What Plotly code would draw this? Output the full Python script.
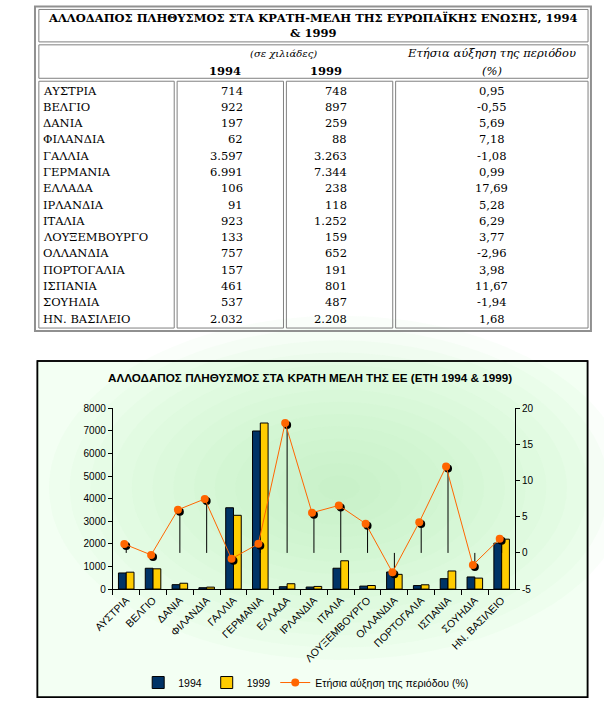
import plotly.graph_objects as go

# ---------------- data ----------------
countries = ["ΑΥΣΤΡΙΑ", "ΒΕΛΓΙΟ", "ΔΑΝΙΑ", "ΦΙΛΑΝΔΙΑ", "ΓΑΛΛΙΑ", "ΓΕΡΜΑΝΙΑ", "ΕΛΛΑΔΑ",
             "ΙΡΛΑΝΔΙΑ", "ΙΤΑΛΙΑ", "ΛΟΥΞΕΜΒΟΥΡΓΟ", "ΟΛΛΑΝΔΙΑ", "ΠΟΡΤΟΓΑΛΙΑ", "ΙΣΠΑΝΙΑ",
             "ΣΟΥΗΔΙΑ", "ΗΝ. ΒΑΣΙΛΕΙΟ"]
pop1994 = [714, 922, 197, 62, 3597, 6991, 106, 91, 923, 133, 757, 157, 461, 537, 2032]
pop1999 = [748, 897, 259, 88, 3263, 7344, 238, 118, 1252, 159, 652, 191, 801, 487, 2208]
growth = [0.95, -0.55, 5.69, 7.18, -1.08, 0.99, 17.69, 5.28, 6.29, 3.77, -2.96, 3.98,
          11.67, -1.94, 1.68]

table_title = "ΑΛΛΟΔΑΠΟΣ ΠΛΗΘΥΣΜΟΣ ΣΤΑ ΚΡΑΤΗ-ΜΕΛΗ ΤΗΣ ΕΥΡΩΠΑΪΚΗΣ ΕΝΩΣΗΣ, 1994<br>&amp; 1999"
unit_label = "(σε χιλιάδες)"
year_labels = ["1994", "1999"]
growth_label = "Ετήσια αύξηση της περιόδου"
growth_unit = "(%)"
chart_title = "ΑΛΛΟΔΑΠΟΣ ΠΛΗΘΥΣΜΟΣ ΣΤΑ ΚΡΑΤΗ ΜΕΛΗ ΤΗΣ ΕΕ (ΕΤΗ 1994 &amp; 1999)"
legend_names = ["1994", "1999", "Ετήσια αύξηση της περιόδου (%)"]
y2_tickvals = [-5, 0, 5, 10, 15, 20]
y2_ticktext = ["-5", "0", "5", "10", "15", "20"]

# ---------------- geometry helpers ----------------
W, H = 604, 719
def X(px): return px / W
def Y(py): return 1 - py / H

def fmt_int(v): return f"{v:,}".replace(",", ".")
def fmt_dec(v): return f"{v:.2f}".replace(".", ",")

SERIF = "DejaVu Serif"
SANS = "Liberation Sans"

fig = go.Figure()

# ---------------- chart traces ----------------
fig.add_trace(go.Bar(x=countries, y=pop1994, name=legend_names[0],
                     marker=dict(color="#003366", line=dict(color="black", width=1)),
                     xaxis="x", yaxis="y"))
fig.add_trace(go.Bar(x=countries, y=pop1999, name=legend_names[1],
                     marker=dict(color="#FFCC00", line=dict(color="black", width=1)),
                     xaxis="x", yaxis="y"))
# drop lines to zero + shadow markers
fig.add_trace(go.Scatter(x=countries, y=growth, mode="markers", showlegend=False,
                         marker=dict(color="black", size=8),
                         error_y=dict(type="data", symmetric=False,
                                      array=[max(-g, 0) for g in growth],
                                      arrayminus=[max(g, 0) for g in growth],
                                      width=0, thickness=1, color="black"),
                         xaxis="x", yaxis="y2", hoverinfo="skip"))
# orange line with markers (on slightly offset overlay axes, giving the shadow look)
fig.add_trace(go.Scatter(x=countries, y=growth, mode="lines+markers", name=legend_names[2],
                         line=dict(color="#FF6600", width=1),
                         marker=dict(color="#FF6600", size=8),
                         xaxis="x3", yaxis="y3"))

x0, x1 = 96, 512
y_top, y_bot = 409, 593
n = len(countries)
dx = 2 / ((x1 - x0) / n)
dy = 2 * 25 / (y_bot - y_top)

axis_font = dict(family=SANS, size=10, color="black")
fig.update_layout(
    width=W, height=H, margin=dict(l=0, r=0, t=0, b=0),
    paper_bgcolor="white", plot_bgcolor="rgba(0,0,0,0)",
    barmode="group", bargap=0.42, bargroupgap=0,
    showlegend=True,
    legend=dict(orientation="h", x=X(296), xanchor="center", y=Y(688), yanchor="middle",
                font=dict(family=SANS, size=10.5, color="black"), bgcolor="rgba(0,0,0,0)",
                itemwidth=30, tracegroupgap=0),
    xaxis=dict(domain=[X(x0), X(x1)], type="category", categoryarray=countries,
               range=[-0.5, n - 0.5], autorange=False,
               tickson="boundaries", ticks="outside", ticklen=5, tickcolor="black",
               showline=True, linecolor="black", linewidth=1, showgrid=False,
               tickangle=-45, tickfont=dict(family=SANS, size=10.5, color="black"),
               anchor="y", fixedrange=True),
    yaxis=dict(domain=[Y(y_bot), Y(y_top)], range=[0, 8000], dtick=1000,
               ticks="outside", ticklen=4, tickcolor="black", showline=True,
               linecolor="black", linewidth=1, showgrid=False, zeroline=False,
               tickfont=axis_font, anchor="x"),
    yaxis2=dict(overlaying="y", side="right", range=[-5, 20],
                tickvals=y2_tickvals, ticktext=y2_ticktext,
                ticks="outside", ticklen=4, tickcolor="black", showline=True,
                linecolor="black", linewidth=1, showgrid=False, zeroline=False,
                tickfont=axis_font, anchor="x"),
    xaxis3=dict(overlaying="x", type="category", categoryarray=countries,
                range=[-0.5 + dx, n - 0.5 + dx], autorange=False, visible=False, anchor="y3"),
    yaxis3=dict(overlaying="y", range=[-5 - dy, 20 - dy], visible=False, anchor="x3"),
)

shapes = []
# chart frame with soft green radial glow
shapes.append(dict(type="rect", xref="paper", yref="paper", x0=X(18), x1=X(587),
                   y0=Y(703), y1=Y(361), line=dict(color="black", width=1.5),
                   fillcolor="#F3FFF3", layer="below"))
cx, cy = 330, 490
steps = 14
for k in range(steps):
    f = 1 - k / steps
    rx, ry = 300 * f, 175 * f
    shapes.append(dict(type="circle", xref="paper", yref="paper",
                       x0=X(cx - rx), x1=X(cx + rx), y0=Y(cy + ry), y1=Y(cy - ry),
                       line=dict(width=0), fillcolor="rgba(190,240,190,0.07)", layer="below"))
shapes.append(dict(type="rect", xref="paper", yref="paper", x0=X(18), x1=X(587),
                   y0=Y(703), y1=Y(361), line=dict(color="black", width=1.5),
                   fillcolor="rgba(0,0,0,0)", layer="below"))

# table frames (double-line look)
shapes.append(dict(type="rect", xref="paper", yref="paper", x0=X(15.5), x1=X(590.5),
                   y0=Y(330.5), y1=Y(0.5), line=dict(color="#909090", width=2)))
cells = [(19, 3, 587, 36), (19, 39, 587, 73),
         (19, 76, 159, 327), (162, 76, 272, 327), (275, 76, 385, 327), (388, 76, 587, 327)]
for (a, b, c, d) in cells:
    shapes.append(dict(type="rect", xref="paper", yref="paper", x0=X(a + 0.5), x1=X(c + 0.5),
                       y0=Y(d + 0.5), y1=Y(b + 0.5), line=dict(color="#808080", width=1)))
fig.update_layout(shapes=shapes)

ann = []
# table title & header
ann.append(dict(text=f"<b>{table_title}</b>", x=X(302), y=Y(20), xref="paper", yref="paper",
                showarrow=False, xanchor="center", yanchor="middle",
                font=dict(family=SERIF, size=11.5, color="black")))
ann.append(dict(text=f"<i>{unit_label}</i>", x=X(273), y=Y(48), xref="paper", yref="paper",
                showarrow=False, xanchor="center", yanchor="middle",
                font=dict(family=SERIF, size=10, color="black")))
for lbl, xc in zip(year_labels, [212, 316]):
    ann.append(dict(text=f"<b>{lbl}</b>", x=X(xc), y=Y(66), xref="paper", yref="paper",
                    showarrow=False, xanchor="center", yanchor="middle",
                    font=dict(family=SERIF, size=11.5, color="black")))
ann.append(dict(text=f"<i>{growth_label}</i>", x=X(488), y=Y(48), xref="paper", yref="paper",
                showarrow=False, xanchor="center", yanchor="middle",
                font=dict(family=SERIF, size=11.5, color="black")))
ann.append(dict(text=f"<i>{growth_unit}</i>", x=X(488), y=Y(66), xref="paper", yref="paper",
                showarrow=False, xanchor="center", yanchor="middle",
                font=dict(family=SERIF, size=11.5, color="black")))

# table body cells
row0, row_h = 86, 16.57
tfont = dict(family=SERIF, size=11.5, color="black")
for i, c in enumerate(countries):
    yy = Y(row0 + i * row_h)
    ann.append(dict(text=c, x=X(22), y=yy, xref="paper", yref="paper", showarrow=False,
                    xanchor="left", yanchor="middle", font=tfont))
    ann.append(dict(text=fmt_int(pop1994[i]), x=X(233), y=yy, xref="paper", yref="paper",
                    showarrow=False, xanchor="right", yanchor="middle", font=tfont))
    ann.append(dict(text=fmt_int(pop1999[i]), x=X(340), y=yy, xref="paper", yref="paper",
                    showarrow=False, xanchor="right", yanchor="middle", font=tfont))
    ann.append(dict(text=fmt_dec(growth[i]), x=X(488), y=yy, xref="paper", yref="paper",
                    showarrow=False, xanchor="center", yanchor="middle", font=tfont))

# chart title
ann.append(dict(text=f"<b>{chart_title}</b>", x=X(300), y=Y(378), xref="paper", yref="paper",
                showarrow=False, xanchor="center", yanchor="middle",
                font=dict(family=SANS, size=11.7, color="black")))
fig.update_layout(annotations=ann)

fig.write_html("out.html", config={"displayModeBar": False},
               post_script="document.body.style.margin='0';document.body.style.padding='0';")
